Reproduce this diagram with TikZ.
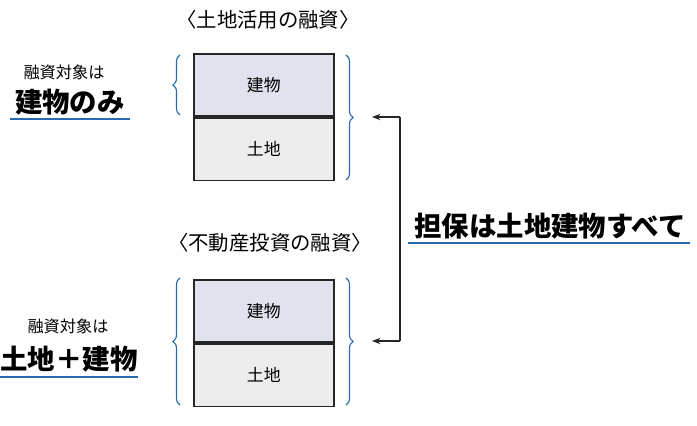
\documentclass[tikz,border=0pt]{standalone}
\usepackage{fontspec}
\setmainfont{Noto Sans CJK JP}
\usetikzlibrary{decorations.pathreplacing,arrows.meta,positioning}
\definecolor{cblue}{rgb}{0.16,0.42,0.69}
\definecolor{cbld}{rgb}{0.88,0.89,0.93}
\definecolor{clnd}{rgb}{0.93,0.93,0.93}
\tikzset{
  part/.style={draw=black!85,line width=1.2pt,minimum width=3.5cm,minimum height=1.56cm,font=\fontsize{12}{14}\selectfont,inner sep=0pt},
  brc/.style={draw=cblue,thick,decorate,decoration={brace,amplitude=5pt}},
  head/.style={font=\fontsize{14.5}{17}\selectfont},
  small/.style={font=\fontsize{11.5}{14}\selectfont},
  big/.style={font=\fontsize{19.5}{23}\selectfont\bfseries},
  uline/.style={draw=cblue,line width=1.8pt},
  link/.style={draw=black!85,line width=1.2pt,-{Stealth[length=6pt]}}
}
\begin{document}
\begin{tikzpicture}[x=0.025cm,y=-0.025cm]
%
\useasboundingbox (0,0) rectangle (697,426);
%
\node[head] (t1) at (268,20) {〈土地活用の融資〉};
\node[part,fill=cbld,anchor=north west] (b1) at (193,53) {建物};
\node[part,fill=clnd,below=0pt of b1] (l1) {土地};
\draw[brc] (180,115) -- (180,55);
\draw[brc] (346,55) -- (346,180);
\node[small] (s1) at (64,72) {融資対象は};
\node[big] (m1) at (70,102) {建物のみ};
\draw[uline] (10,119) -- (130,119);
%
\node[head] (t2) at (270,243) {〈不動産投資の融資〉};
\node[part,fill=cbld,anchor=north west] (b2) at (193,279) {建物};
\node[part,fill=clnd,below=0pt of b2] (l2) {土地};
\draw[brc] (180,405) -- (180,278);
\draw[brc] (346,278) -- (346,405);
\node[small] (s2) at (68,326) {融資対象は};
\node[big] (m2) at (69,359) {土地＋建物};
\draw[uline] (0,377) -- (138,377);
%
\coordinate (c1) at (400,117);
\coordinate (c2) at (400,341);
\coordinate (e1) at (372,117);
\coordinate (e2) at (372,341);
\draw[link] (c1) -- (e1);
\draw[link] (c2) -- (e2);
\draw[draw=black!85,line width=1.2pt] (c1) -- (c2);
\node[big] (g) at (550,226) {担保は土地建物すべて};
\draw[uline] (408,243) -- (690,243);
\end{tikzpicture}
\end{document}
